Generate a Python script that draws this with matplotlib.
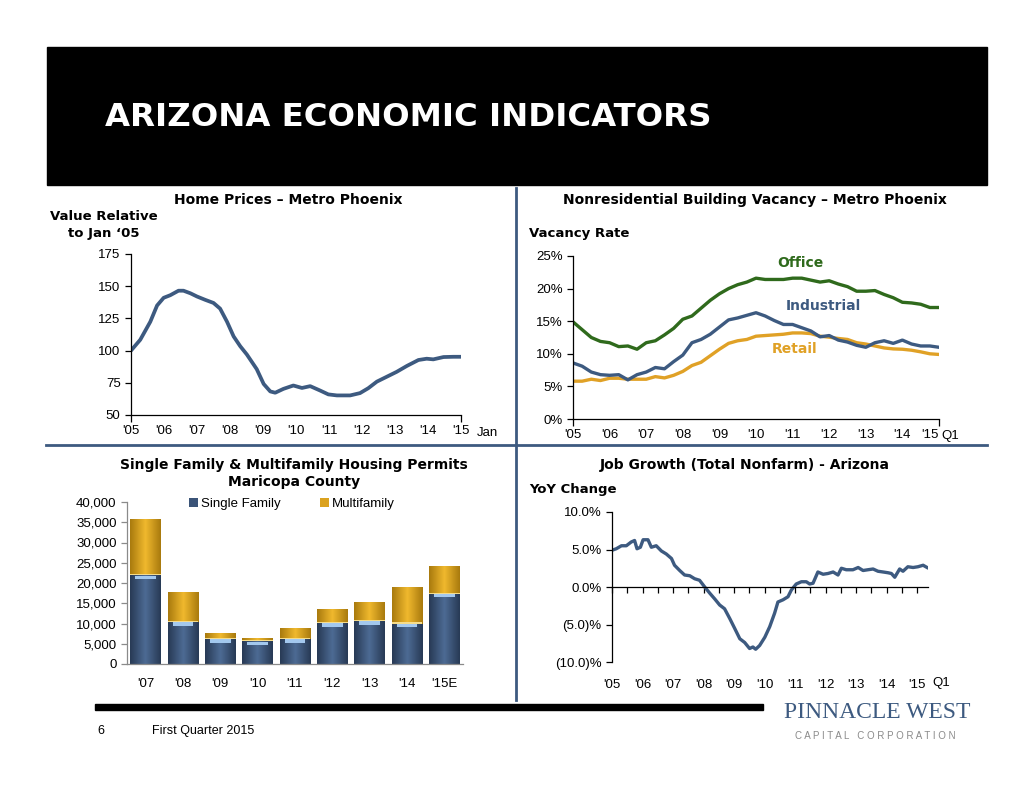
import numpy as np
import matplotlib
import matplotlib.pyplot as plt
from matplotlib.patches import Rectangle
from matplotlib.lines import Line2D
from matplotlib.ticker import FuncFormatter
from matplotlib.colors import LinearSegmentedColormap

matplotlib.use('Agg')
plt.rcParams['font.family'] = ['Liberation Sans', 'DejaVu Sans']

W, H = 1034, 799
NAVY = '#3d5a80'
GREEN = '#2f6a1c'
GOLD = '#e0a126'
BOLD = ['DejaVu Sans']

# Home prices, value relative to Jan '05
home_years = [2005.0, 2005.28, 2005.585, 2005.79, 2005.99, 2006.19, 2006.44, 2006.59,
              2006.8, 2007.0, 2007.25, 2007.5, 2007.7, 2007.91, 2008.11, 2008.31,
              2008.51, 2008.81, 2009.02, 2009.22, 2009.37, 2009.62, 2009.92, 2010.18,
              2010.43, 2010.73, 2010.98, 2011.24, 2011.64, 2011.94, 2012.19, 2012.45,
              2012.75, 2013.05, 2013.36, 2013.71, 2013.96, 2014.16, 2014.47, 2014.77, 2015.0]
home_values = [100, 108.4, 122.4, 135, 141, 143, 146.5, 146.5, 144.5, 142, 139.4, 137,
               132.6, 122.4, 111, 103.4, 97, 85.6, 74.1, 68.3, 67.3, 70.3, 72.9, 71,
               72.4, 69, 66, 65.2, 65.2, 67, 70.8, 75.9, 79.7, 83.5, 88.1, 92.7, 93.7,
               93.2, 95, 95.2, 95.2]

# Vacancy rates, quarterly Q1 2005 .. Q1 2015 (%)
office = [14.9, 13.7, 12.5, 11.9, 11.7, 11.1, 11.2, 10.7, 11.7, 12.0, 12.9, 13.9, 15.3,
          15.8, 17.0, 18.2, 19.2, 20.0, 20.6, 21.0, 21.6, 21.4, 21.4, 21.4, 21.6, 21.6,
          21.3, 21.0, 21.2, 20.7, 20.3, 19.6, 19.6, 19.7, 19.1, 18.6, 17.9, 17.8, 17.6,
          17.1, 17.1]
industrial = [8.6, 8.1, 7.2, 6.8, 6.7, 6.8, 6.0, 6.8, 7.2, 7.9, 7.7, 8.8, 9.8, 11.7,
              12.2, 13.0, 14.1, 15.2, 15.5, 15.9, 16.3, 15.8, 15.1, 14.5, 14.5, 14.0,
              13.5, 12.6, 12.8, 12.1, 11.8, 11.3, 11.0, 11.7, 12.0, 11.6, 12.1, 11.5,
              11.2, 11.2, 11.0]
retail = [5.8, 5.8, 6.1, 5.9, 6.25, 6.25, 6.1, 6.1, 6.1, 6.5, 6.3, 6.7, 7.3, 8.2, 8.7,
          9.7, 10.7, 11.6, 12.0, 12.2, 12.7, 12.8, 12.9, 13.0, 13.2, 13.2, 13.1, 12.7,
          12.55, 12.35, 12.2, 11.7, 11.5, 11.2, 10.9, 10.75, 10.7, 10.55, 10.3, 10.0, 9.9]

# Housing permits, Maricopa County
permit_years = ["'07", "'08", "'09", "'10", "'11", "'12", "'13", "'14", "'15E"]
single_family = [21900, 10400, 6200, 5600, 6200, 10200, 10700, 10000, 17400]
multifamily = [14000, 7500, 1400, 900, 2700, 3400, 4600, 9000, 6700]

# Job growth, YoY change (%)
job_years = [2005.0, 2005.14, 2005.31, 2005.47, 2005.63, 2005.74, 2005.82, 2005.93,
             2006.02, 2006.18, 2006.29, 2006.45, 2006.62, 2006.78, 2006.95, 2007.05,
             2007.22, 2007.38, 2007.55, 2007.71, 2007.87, 2008.04, 2008.2, 2008.37,
             2008.53, 2008.69, 2008.86, 2009.02, 2009.19, 2009.35, 2009.51, 2009.62,
             2009.71, 2009.84, 2010.01, 2010.17, 2010.33, 2010.44, 2010.61, 2010.77,
             2010.88, 2011.04, 2011.21, 2011.37, 2011.48, 2011.59, 2011.75, 2011.92,
             2012.08, 2012.25, 2012.41, 2012.52, 2012.68, 2012.9, 2013.07, 2013.23,
             2013.39, 2013.56, 2013.72, 2013.89, 2014.05, 2014.16, 2014.27, 2014.43,
             2014.54, 2014.7, 2014.87, 2015.03, 2015.2, 2015.33]
job_growth = [4.9, 5.1, 5.5, 5.5, 6.0, 6.2, 5.1, 5.3, 6.3, 6.3, 5.3, 5.5, 4.8, 4.4, 3.8,
              2.9, 2.2, 1.6, 1.5, 1.1, 0.9, 0.0, -0.8, -1.6, -2.4, -2.9, -4.2, -5.5,
              -6.9, -7.4, -8.2, -8.0, -8.3, -7.8, -6.7, -5.3, -3.5, -2.0, -1.7, -1.3,
              -0.4, 0.4, 0.7, 0.7, 0.4, 0.5, 2.0, 1.7, 1.8, 2.0, 1.6, 2.5, 2.3, 2.3,
              2.6, 2.2, 2.3, 2.4, 2.1, 2.0, 1.9, 1.8, 1.3, 2.4, 2.1, 2.7, 2.6, 2.7,
              2.9, 2.6]

years = list(range(2005, 2016))
year_labels = ["'" + str(y)[2:] for y in years]


def px_axes(fig, left, top, right, bottom):
    return fig.add_axes([left / W, 1 - bottom / H, (right - left) / W, (bottom - top) / H])


def fig_text(fig, x, y, s, **kw):
    return fig.text(x / W, 1 - y / H, s, **kw)


def style_axes(ax, color='black'):
    for side in ['top', 'right']:
        ax.spines[side].set_visible(False)
    for side in ['left', 'bottom']:
        ax.spines[side].set_color(color)
        ax.spines[side].set_linewidth(0.9)
    ax.tick_params(colors=color, labelcolor='black', labelsize=9.5, length=4, width=0.9)


def year_axis(ax):
    # labels every year, tick marks only at both ends (like the source)
    ax.xaxis.remove_overlapping_locs = False
    ax.set_xticks([years[0], years[-1]])
    ax.set_xticklabels(['', ''])
    ax.set_xticks(years, minor=True)
    ax.set_xticklabels(year_labels, minor=True)
    ax.tick_params(axis='x', which='major', length=5)
    ax.tick_params(axis='x', which='minor', length=0, pad=7, labelsize=9.5)


def shade_bars(ax, bars, dark, light):
    cmap = LinearSegmentedColormap.from_list('shade', [dark, light, dark])
    grad = np.linspace(0, 1, 64).reshape(1, -1)
    for b in bars:
        x0, y0, w, h = b.get_x(), b.get_y(), b.get_width(), b.get_height()
        im = ax.imshow(grad, cmap=cmap, extent=(x0, x0 + w, y0, y0 + h),
                       aspect='auto', zorder=2, interpolation='bilinear')
        im.set_clip_path(b)


fig = plt.figure(figsize=(W / 100, H / 100), dpi=100)

# header
fig.patches.append(Rectangle((47 / W, 1 - 185 / H), 940 / W, 138 / H,
                             transform=fig.transFigure, color='black'))
fig_text(fig, 105, 117, 'ARIZONA ECONOMIC INDICATORS', color='white', fontsize=23.3,
         fontweight='bold', family=BOLD, va='center', ha='left')

# divider lines
fig.lines.append(Line2D([516 / W, 516 / W], [1 - 188 / H, 1 - 700 / H],
                        transform=fig.transFigure, color=NAVY, lw=2))
fig.lines.append(Line2D([46 / W, 987 / W], [1 - 445 / H, 1 - 445 / H],
                        transform=fig.transFigure, color=NAVY, lw=2))

title_kw = dict(fontsize=10, fontweight='bold', family=BOLD, ha='center', va='center')
label_kw = dict(fontsize=9.5, fontweight='bold', family=BOLD, va='center')

# ---- Home prices
ax1 = px_axes(fig, 131, 254, 461, 415)
ax1.plot(home_years, home_values, color=NAVY, lw=2.7, solid_capstyle='round')
ax1.set_xlim(2005, 2015)
ax1.set_ylim(50, 175)
ax1.set_yticks(range(50, 176, 25))
style_axes(ax1)
year_axis(ax1)
fig_text(fig, 288, 200, 'Home Prices – Metro Phoenix', **title_kw)
fig_text(fig, 104, 225, 'Value Relative\nto Jan ‘05', ha='center', linespacing=1.3, **label_kw)
fig_text(fig, 477, 433, 'Jan', fontsize=9.5, ha='left', va='center')

# ---- Vacancy
ax2 = px_axes(fig, 573, 256, 939, 419)
qx = 2005 + np.arange(len(office)) / 4
ax2.plot(qx, office, color=GREEN, lw=2.4)
ax2.plot(qx, retail, color=GOLD, lw=2.4)
ax2.plot(qx, industrial, color=NAVY, lw=2.4)
ax2.set_xlim(2005, 2015)
ax2.set_ylim(0, 25)
ax2.set_yticks(range(0, 26, 5))
ax2.yaxis.set_major_formatter(FuncFormatter(lambda v, p: '%d%%' % v))
style_axes(ax2)
year_axis(ax2)
ax2.get_xticklabels(minor=True)[-1].set_ha('right')
fig_text(fig, 755, 200, 'Nonresidential Building Vacancy – Metro Phoenix', **title_kw)
fig_text(fig, 529, 234, 'Vacancy Rate', ha='left', **label_kw)
fig_text(fig, 941, 436, 'Q1', fontsize=9.5, ha='left', va='center')
ax2.text(2011.2, 24.0, 'Office', color=GREEN, fontsize=10, fontweight='bold', family=BOLD,
         ha='center', va='center')
ax2.text(2011.85, 17.4, 'Industrial', color=NAVY, fontsize=10, fontweight='bold', family=BOLD,
         ha='center', va='center')
ax2.text(2011.05, 10.7, 'Retail', color=GOLD, fontsize=10, fontweight='bold', family=BOLD,
         ha='center', va='center')

# ---- Permits
ax3 = px_axes(fig, 127, 502, 463, 664)
bx = np.arange(len(permit_years))
sf_bars = ax3.bar(bx, single_family, width=0.82, color='#3b5478', lw=0, label='Single Family')
mf_bars = ax3.bar(bx, multifamily, width=0.82, bottom=single_family, color='#dba21f',
                  lw=0, label='Multifamily')
shade_bars(ax3, sf_bars, '#283a55', '#4d6b94')
shade_bars(ax3, mf_bars, '#a97a0e', '#f0b92e')
ax3.bar(bx, [800] * len(bx), width=0.55, bottom=np.array(single_family) - 950,
        color='#a3c8ee', lw=0, zorder=3)
ax3.bar(bx, [250] * len(bx), width=0.82, bottom=single_family, color='#f6dc8a', lw=0, zorder=3)
ax3.set_xlim(-0.5, len(bx) - 0.5)
ax3.set_ylim(0, 40000)
ax3.set_yticks(range(0, 40001, 5000))
ax3.yaxis.set_major_formatter(FuncFormatter(lambda v, p: '{:,.0f}'.format(v)))
ax3.set_xticks(bx)
ax3.set_xticklabels(permit_years)
style_axes(ax3, color='#8a8a8a')
ax3.tick_params(axis='x', length=0, pad=10)
ax3.legend([sf_bars, mf_bars], ['Single Family', 'Multifamily'], loc='upper center',
           bbox_to_anchor=(0.49, 1.1), ncol=2, frameon=False, fontsize=9.5,
           handlelength=0.7, handleheight=0.7, handletextpad=0.2, columnspacing=3.0)
fig_text(fig, 294, 465, 'Single Family & Multifamily Housing Permits', **title_kw)
fig_text(fig, 294, 482, 'Maricopa County', **title_kw)

# ---- Job growth
ax4 = px_axes(fig, 612, 512, 928, 662)
ax4.plot(job_years, job_growth, color=NAVY, lw=2.4)
ax4.set_xlim(2005, 2015.36)
ax4.set_ylim(-10, 10)
ax4.set_yticks([-10, -5, 0, 5, 10])
ax4.yaxis.set_major_formatter(FuncFormatter(
    lambda v, p: '%.1f%%' % v if v >= 0 else '(%.1f)%%' % -v))
style_axes(ax4)
ax4.spines['bottom'].set_position(('data', 0))
ax4.set_xticks(years)
ax4.set_xticks(np.arange(2005.5, 2015.4, 1.0), minor=True)
ax4.set_xticklabels(year_labels)
ax4.tick_params(axis='x', which='both', length=4, width=0.9, pad=62)
ax4.tick_params(axis='x', which='minor', labelbottom=False)
fig_text(fig, 745, 465, 'Job Growth (Total Nonfarm) - Arizona', **title_kw)
fig_text(fig, 529, 490, 'YoY Change', ha='left', **label_kw)
fig_text(fig, 932, 683, 'Q1', fontsize=9.5, ha='left', va='center')

# ---- footer
fig.patches.append(Rectangle((95 / W, 1 - 710 / H), 668 / W, 6 / H,
                             transform=fig.transFigure, color='black'))
fig_text(fig, 97, 731, '6', fontsize=9, ha='left', va='center')
fig_text(fig, 152, 731, 'First Quarter 2015', fontsize=9, ha='left', va='center')
fig_text(fig, 877, 713, 'PINNACLE WEST', family='Liberation Serif', fontsize=17,
         color=NAVY, ha='center', va='center')
fig_text(fig, 875, 736, 'C A P I T A L   C O R P O R A T I O N', fontsize=7,
         color='#8a8a8a', ha='center', va='center')

fig.savefig('out.png', dpi=100)
